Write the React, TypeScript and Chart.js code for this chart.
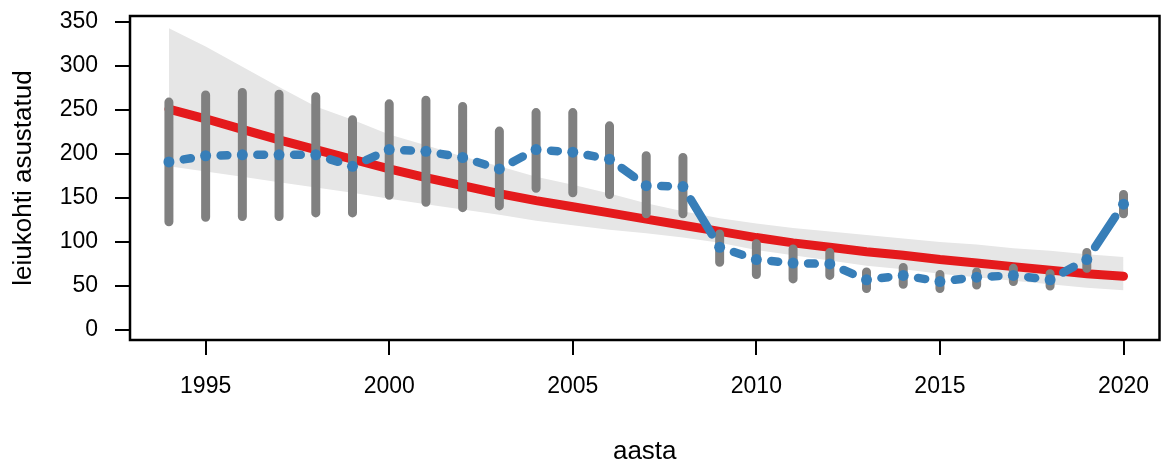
import React, { useEffect, useRef } from 'react';
import { Chart, registerables } from 'chart.js';

Chart.register(...registerables);

const years = [1994, 1995, 1996, 1997, 1998, 1999, 2000, 2001, 2002, 2003, 2004, 2005, 2006, 2007, 2008, 2009, 2010, 2011, 2012, 2013, 2014, 2015, 2016, 2017, 2018, 2019, 2020];
const rangeHigh = [259, 267, 270, 268, 265, 239, 257, 261, 254, 226, 247, 247, 232, 198, 196, 109, 98, 92, 88, 66, 71, 63, 66, 70, 64, 88, 154];
const rangeLow = [123, 128, 129, 129, 133, 133, 153, 145, 139, 141, 161, 156, 154, 132, 132, 77, 63, 58, 62, 47, 52, 47, 51, 55, 50, 70, 132];
const meanValues = [191, 198, 199, 199, 199, 186, 205, 203, 196, 183, 205, 202, 194, 164, 163, 94, 80, 76, 75, 57, 62, 55, 60, 62, 57, 80, 143];
const fitValues = [251, 240, 228, 216, 205, 194, 183, 173, 164, 155, 147, 140, 133, 126, 119, 112, 105, 99, 94, 89, 85, 80, 76, 72, 68, 64, 61];
const fitUpper = [343, 322, 299, 276, 254, 239, 222, 210, 197, 186, 174, 165, 155, 144, 135, 127, 121, 116, 112, 108, 104, 100, 97, 93, 90, 86, 83];
const fitLower = [186, 180, 174, 168, 162, 156, 149, 143, 137, 131, 124, 119, 114, 110, 105, 99, 91, 85, 79, 73, 69, 64, 60, 56, 52, 48, 45];
const xTicks = [1995, 2000, 2005, 2010, 2015, 2020];
const yTicks = [0, 50, 100, 150, 200, 250, 300, 350];

const FONT = '"Liberation Sans", Arial, sans-serif';
const POINT_GAP = 15;

const boxPlugin = {
  id: 'boxPlugin',
  afterDraw(chart: any) {
    const { ctx, chartArea } = chart;
    ctx.save();
    ctx.strokeStyle = '#000000';
    ctx.lineWidth = 2.5;
    ctx.strokeRect(chartArea.left, chartArea.top, chartArea.right - chartArea.left, chartArea.bottom - chartArea.top);
    ctx.restore();
  },
};

export default function App() {
  const canvasRef = useRef<HTMLCanvasElement | null>(null);

  useEffect(() => {
    const canvas = canvasRef.current;
    if (!canvas) return;

    const pts = (vals: number[]) => years.map((x, i) => ({ x, y: vals[i] }));
    const rangePts: any[] = [];
    years.forEach((x, i) => {
      rangePts.push({ x, y: rangeLow[i] });
      rangePts.push({ x, y: rangeHigh[i] });
      rangePts.push({ x, y: null });
    });

    const chart = new Chart(canvas, {
      type: 'line',
      data: {
        datasets: [
          {
            label: 'mean',
            data: pts(meanValues),
            borderColor: '#377EB8',
            backgroundColor: '#377EB8',
            borderWidth: 8.5,
            borderCapStyle: 'round',
            pointRadius: 5.5,
            pointBorderWidth: 0,
            pointBackgroundColor: '#377EB8',
            tension: 0,
            order: 0,
            segment: {
              borderDash: (c: any) => {
                const len = Math.hypot(c.p1.x - c.p0.x, c.p1.y - c.p0.y);
                if (len <= 2 * POINT_GAP) return [0, len + 1];
                return [0, POINT_GAP, len - 2 * POINT_GAP, POINT_GAP];
              },
            },
          },
          {
            label: 'range',
            data: rangePts,
            borderColor: '#808080',
            borderWidth: 9,
            borderCapStyle: 'round',
            pointRadius: 0,
            spanGaps: false,
            order: 1,
          },
          {
            label: 'fit',
            data: pts(fitValues),
            borderColor: '#E41A1C',
            borderWidth: 9,
            borderCapStyle: 'round',
            pointRadius: 0,
            tension: 0,
            order: 2,
          },
          {
            label: 'upper',
            data: pts(fitUpper),
            borderWidth: 0,
            borderColor: 'rgba(0,0,0,0)',
            backgroundColor: '#E6E6E6',
            pointRadius: 0,
            fill: '+1',
            order: 3,
          },
          {
            label: 'lower',
            data: pts(fitLower),
            borderWidth: 0,
            borderColor: 'rgba(0,0,0,0)',
            pointRadius: 0,
            fill: false,
            order: 4,
          },
        ],
      },
      options: {
        animation: false,
        responsive: false,
        devicePixelRatio: 1,
        layout: { padding: { left: 0, top: 16, right: 2, bottom: 0 } },
        plugins: {
          legend: { display: false },
          tooltip: { enabled: false },
        },
        scales: {
          x: {
            type: 'linear',
            min: 1992.94,
            max: 2020.98,
            afterBuildTicks: (s: any) => {
              s.ticks = xTicks.map((v) => ({ value: v }));
            },
            afterFit: (s: any) => {
              s.height = 122;
              s.paddingLeft = 0;
              s.paddingRight = 0;
              s.paddingTop = 0;
              s.paddingBottom = 0;
            },
            border: { display: false },
            grid: {
              display: true,
              drawOnChartArea: false,
              drawTicks: true,
              tickLength: 15,
              color: '#000000',
              lineWidth: 2,
            },
            ticks: {
              autoSkip: false,
              maxRotation: 0,
              padding: 18,
              color: '#000000',
              font: { family: FONT, size: 23 },
              callback: (v: any) => String(v),
            },
            title: {
              display: true,
              text: 'aasta',
              color: '#000000',
              font: { family: FONT, size: 26, lineHeight: 0.77 },
              padding: { top: 0, bottom: 0 },
            },
          },
          y: {
            type: 'linear',
            min: -11.4,
            max: 356.8,
            afterBuildTicks: (s: any) => {
              s.ticks = yTicks.map((v) => ({ value: v }));
            },
            afterFit: (s: any) => {
              s.width = 130;
              s.paddingLeft = 0;
              s.paddingRight = 0;
              s.paddingTop = 0;
              s.paddingBottom = 0;
            },
            border: { display: false },
            grid: {
              display: true,
              drawOnChartArea: false,
              drawTicks: true,
              tickLength: 15,
              color: '#000000',
              lineWidth: 2,
            },
            ticks: {
              autoSkip: false,
              padding: 17,
              color: '#000000',
              font: { family: FONT, size: 23 },
              callback: (v: any) => String(v),
            },
            title: {
              display: true,
              text: 'leiukohti asustatud',
              color: '#000000',
              font: { family: FONT, size: 26, lineHeight: 1.2 },
              padding: { top: 8, bottom: 0 },
            },
          },
        },
      },
      plugins: [boxPlugin],
    });

    return () => {
      chart.destroy();
    };
  }, []);

  return (
    <div style={{ position: 'absolute', left: 0, top: 0, width: 1165, height: 462, background: '#ffffff' }}>
      <canvas ref={canvasRef} width={1165} height={462} style={{ display: 'block' }} />
    </div>
  );
}
